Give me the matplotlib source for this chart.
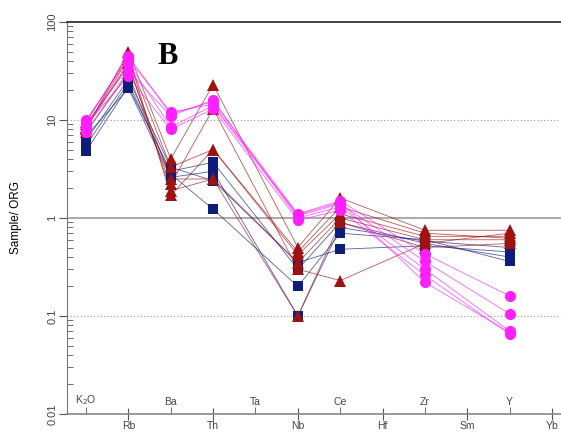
import numpy as np
import matplotlib
matplotlib.use('Agg')
import matplotlib.pyplot as plt
from matplotlib.ticker import LogLocator, NullFormatter
import matplotlib.transforms as mtransforms

plt.rcParams['font.family'] = ['Liberation Sans', 'DejaVu Sans']

# element order on the spider diagram
elements = ['K$_2$O', 'Rb', 'Ba', 'Th', 'Ta', 'Nb', 'Ce', 'Hf', 'Zr', 'Sm', 'Y', 'Yb']
# elements that have analyses (Ta, Hf, Sm, Yb are skipped)
plotted = ['K$_2$O', 'Rb', 'Ba', 'Th', 'Nb', 'Ce', 'Zr', 'Y']

# navy squares
navy_samples = [
    [4.8, 22, 3.0, 3.7, 0.30, 0.90, 0.55, 0.40],
    [5.5, 24, 2.8, 1.23, 0.20, 0.70, 0.60, 0.36],
    [6.2, 26, 3.3, 2.4, 0.35, 0.48, 0.52, 0.45],
    [6.8, 21, 2.6, 3.0, 0.10, 0.80, 0.58, 0.50],
]
# dark red triangles
red_samples = [
    [8.0, 50, 4.0, 23, 0.50, 1.6, 0.75, 0.75],
    [8.5, 42, 3.3, 5.0, 0.42, 1.1, 0.65, 0.65],
    [9.0, 35, 2.5, 2.5, 0.35, 1.0, 0.60, 0.60],
    [7.5, 30, 2.2, 13, 0.30, 0.23, 0.55, 0.70],
    [8.2, 38, 1.9, 2.5, 0.10, 0.90, 0.50, 0.55],
    [9.5, 45, 1.7, 5.0, 0.45, 1.3, 0.70, 0.62],
]
# magenta circles
pink_samples = [
    [9.5, 45, 11.5, 15.5, 1.10, 1.50, 0.43, 0.160],
    [8.5, 38, 8.5, 14.0, 1.05, 1.40, 0.36, 0.105],
    [7.5, 32, 11.0, 16.0, 1.00, 1.30, 0.30, 0.070],
    [9.0, 28, 8.0, 13.0, 0.95, 1.20, 0.26, 0.065],
    [10.0, 42, 12.0, 14.5, 1.08, 1.45, 0.22, 0.068],
]

xpos = [elements.index(e) for e in plotted]

fig = plt.figure(figsize=(5.61, 4.32), dpi=100)
ax = fig.add_axes([67/561, 18/432, 494/561, 392/432])
ax.set_yscale('log')
ax.set_ylim(0.01, 100)
ax.set_xlim(-0.4485, 11.21)

# reference lines
ax.axhline(1, color='#aaaaaa', lw=1.4, zorder=1)
for yv in [10, 0.1]:
    ax.axhline(yv, color='#999999', lw=0.8, ls=(0, (1, 2)), zorder=1)

groups = [
    (navy_samples, '#0f1d7a', 's', 7.5),
    (red_samples, '#9e1212', '^', 9),
    (pink_samples, '#ff1fff', 'o', 8),
]
for samples, col, mk, ms in groups:
    for vals in samples:
        ax.plot(xpos, vals, color=col, lw=0.6, alpha=0.7, zorder=2)
        ax.plot(xpos, vals, ls='none', marker=mk, ms=ms, color=col,
                markeredgewidth=0, zorder=3)

# spines
ax.spines['top'].set_color('#333333')
ax.spines['top'].set_linewidth(1.3)
ax.spines['right'].set_visible(False)
ax.spines['left'].set_color('#777777')
ax.spines['bottom'].set_color('#888888')
ax.spines['bottom'].set_linewidth(1.2)

# y axis ticks
ax.set_yticks([0.01, 0.1, 1, 10, 100])
ax.set_yticklabels(['0.01', '0.1', '1', '10', '100'], rotation=90,
                   va='center', fontsize=8, color='#444444')
ax.yaxis.set_minor_locator(LogLocator(base=10, subs=np.arange(2, 10)))
ax.yaxis.set_minor_formatter(NullFormatter())
ax.tick_params(axis='y', which='major', direction='out', length=6,
               color='#555555', pad=1)
ax.tick_params(axis='y', which='minor', direction='in', length=4,
               color='#555555')
ax.set_ylabel('Sample/ ORG', fontsize=8.5, labelpad=18)

# x axis: odd elements below the axis, even elements above it
ax.set_xticks(list(range(1, 12, 2)))
ax.set_xticklabels([elements[i] for i in range(1, 12, 2)], fontsize=7.5,
                   color='#444444')
ax.set_xticks(list(range(0, 12, 2)), minor=True)
ax.tick_params(axis='x', which='major', direction='inout', length=8,
               color='#555555', pad=1)
ax.tick_params(axis='x', which='minor', direction='in', length=5,
               color='#555555')
trans = mtransforms.blended_transform_factory(ax.transData, ax.transAxes)
for i in range(0, 12, 2):
    ax.text(i, 0.017, elements[i], transform=trans, ha='center',
            va='bottom', fontsize=7.5, color='#444444')

ax.text(168, 432 - 57, 'B', transform=None, fontsize=22, fontweight='bold',
        family='Liberation Serif', ha='center', va='center')

fig.savefig('out.png', dpi=100)
